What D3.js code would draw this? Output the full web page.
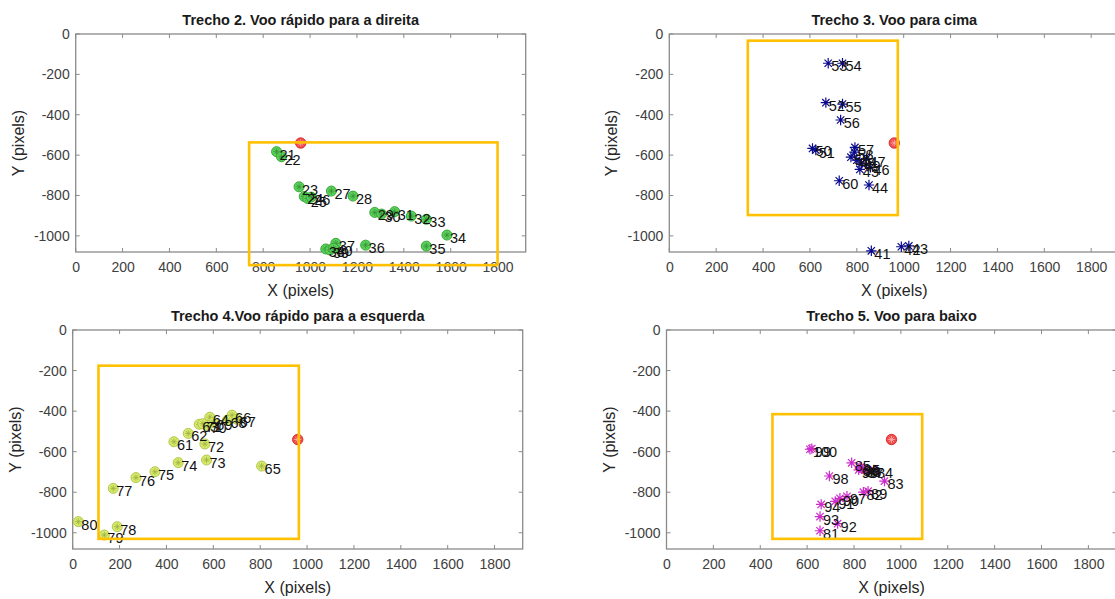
<!DOCTYPE html>
<html><head><meta charset="utf-8">
<script src="https://cdn.jsdelivr.net/npm/d3@7"></script>
<style>body{margin:0;background:#fff;} svg{display:block;}</style>
</head><body>
<script>
// ---------- data ----------
const xTicks = [0,200,400,600,800,1000,1200,1400,1600,1800];
const yTicks = [0,-200,-400,-600,-800,-1000];
const xDomain = [0,1920];
const yDomain = [-1080,0];
const titles = ["Trecho 2. Voo rápido para a direita","Trecho 3. Voo para cima","Trecho 4.Voo rápido para a esquerda","Trecho 5. Voo para baixo"];
const xLabel = "X (pixels)";
const yLabel = "Y (pixels)";
const targetX = 960, targetY = -540;

const ids2 = [21,22,23,24,25,26,27,28,29,30,31,32,33,34,35,36,37,38,39,40];
const x2 = [857,878,953,975,990,1005,1091,1183,1276,1305,1361,1432,1496,1584,1496,1237,1110,1067,1085,1100];
const y2 = [-583,-608,-757,-805,-815,-808,-778,-803,-884,-892,-880,-902,-918,-996,-1051,-1046,-1037,-1065,-1070,-1062];

const ids3 = [41,42,43,44,45,46,47,48,49,50,51,52,53,54,55,56,57,58,59,60];
const x3 = [862,990,1022,852,813,858,841,800,820,611,625,668,678,739,739,731,792,790,775,725];
const y3 = [-1074,-1054,-1050,-748,-671,-661,-618,-625,-640,-567,-575,-340,-145,-145,-347,-426,-562,-585,-610,-727];

const ids4 = [61,62,63,64,65,66,67,68,69,70,71,72,73,74,75,76,77,78,79,80];
const x4 = [432,493,540,585,806,680,700,660,600,575,555,564,571,450,351,270,173,190,135,24];
const y4 = [-551,-510,-465,-430,-671,-420,-440,-445,-455,-470,-462,-562,-641,-654,-699,-728,-781,-970,-1011,-945];

const ids5 = [81,82,83,84,85,86,87,88,89,90,91,92,93,94,95,96,97,98,99,100];
const x5 = [655,840,930,885,790,825,845,835,860,740,720,730,655,660,830,820,770,695,620,612];
const y5 = [-990,-800,-745,-690,-655,-680,-690,-685,-795,-830,-845,-955,-920,-860,-675,-690,-820,-720,-585,-588];

// highlight rectangles [x0, x1, y0, y1] in data units
const rect2 = [740,1800,-1145,-537];
const rect3 = [335,975,-897,-33];
const rect4 = [110,965,-1030,-176];
const rect5 = [452,1091,-1030,-415];

// ---------- layout ----------
const W = 1115, H = 599;
const svg = d3.select("body").append("svg").attr("width",W).attr("height",H)
  .style("font-family","'Liberation Sans', Arial, Helvetica, sans-serif");
svg.append("rect").attr("width",W).attr("height",H).attr("fill","#fff");

const panels = [
  {left:75.7, top:34, w:450, h:218, ids:ids2, xs:x2, ys:y2, rect:rect2, kind:"circle", fill:"#5cd25c", stroke:"#37a837", star:"#2a7d2a"},
  {left:669.3, top:34, w:450, h:218, ids:ids3, xs:x3, ys:y3, rect:rect3, kind:"star", stroke:"#0a0a8c"},
  {left:72.7, top:330, w:450, h:219, ids:ids4, xs:x4, ys:y4, rect:rect4, kind:"circle", fill:"#d8ec6e", stroke:"#b3c64a", star:"#8c9c35"},
  {left:666.5, top:330, w:450, h:219, ids:ids5, xs:x5, ys:y5, rect:rect5, kind:"star", stroke:"#cc2ccc"}
];

function starPath(r){
  const d = r*0.7071;
  return `M${-r},0L${r},0M0,${-r}L0,${r}M${-d},${-d}L${d},${d}M${-d},${d}L${d},${-d}`;
}

const axisColor = "#8a8a8a", tickText = "#404040";

panels.forEach((p,i)=>{
  const g = svg.append("g").attr("transform",`translate(${p.left},${p.top})`);
  const x = d3.scaleLinear().domain(xDomain).range([0,p.w]);
  const y = d3.scaleLinear().domain(yDomain).range([p.h,0]);

  const tl = 4;
  const gx = g.append("g").attr("transform",`translate(0,${p.h})`)
    .call(d3.axisBottom(x).tickValues(xTicks).tickSize(0).tickPadding(10).tickFormat(d3.format("d")));
  const gy = g.append("g")
    .call(d3.axisLeft(y).tickValues(yTicks).tickSize(0).tickPadding(6).tickFormat(d=>String(d)));
  [gx,gy].forEach(a=>{
    a.select(".domain").remove();
    a.selectAll("text").attr("fill",tickText).style("font-size","14px");
  });
  g.append("rect").attr("width",p.w).attr("height",p.h).attr("fill","none")
    .attr("stroke",axisColor).attr("stroke-width",1.3);
  xTicks.forEach(t=>{
    g.append("line").attr("x1",x(t)).attr("x2",x(t)).attr("y1",p.h).attr("y2",p.h-tl).attr("stroke",axisColor);
    g.append("line").attr("x1",x(t)).attr("x2",x(t)).attr("y1",0).attr("y2",tl).attr("stroke",axisColor);
  });
  yTicks.forEach(t=>{
    g.append("line").attr("x1",0).attr("x2",tl).attr("y1",y(t)).attr("y2",y(t)).attr("stroke",axisColor);
    g.append("line").attr("x1",p.w).attr("x2",p.w-tl).attr("y1",y(t)).attr("y2",y(t)).attr("stroke",axisColor);
  });

  g.append("text").attr("x",p.w/2).attr("y",-9).attr("text-anchor","middle")
    .style("font-size","14.5px").style("font-weight","bold").attr("fill","#1a1a1a").text(titles[i]);
  g.append("text").attr("x",p.w/2).attr("y",p.h+44).attr("text-anchor","middle")
    .style("font-size","16px").attr("fill","#262626").text(xLabel);
  g.append("text").attr("transform",`translate(${-52},${p.h/2}) rotate(-90)`).attr("text-anchor","middle")
    .style("font-size","16px").attr("fill","#262626").text(yLabel);

  const tg = g.append("g").attr("transform",`translate(${x(targetX)},${y(targetY)})`);
  tg.append("circle").attr("r",5.2).attr("fill","#ee4b4b").attr("stroke","#e03030");
  tg.append("path").attr("d",starPath(3.6)).attr("stroke","#ffb0b0").attr("stroke-width",0.8);

  const pts = p.ids.map((id,k)=>({id, x:p.xs[k], y:p.ys[k]}));
  const m = g.append("g").selectAll("g").data(pts).join("g")
    .attr("transform",d=>`translate(${x(d.x)},${y(d.y)})`);
  if(p.kind==="circle"){
    m.append("circle").attr("r",5).attr("fill",p.fill).attr("stroke",p.stroke).attr("stroke-width",1);
    m.append("path").attr("d",starPath(3.4)).attr("stroke",p.star).attr("stroke-width",0.7).attr("opacity",0.8);
  } else {
    m.append("path").attr("d",starPath(5.2)).attr("stroke",p.stroke).attr("stroke-width",1.2).attr("fill","none");
  }
  g.append("g").selectAll("text").data(pts).join("text")
    .attr("x",d=>x(d.x)+3).attr("y",d=>y(d.y)+8)
    .style("font-size","14.5px").attr("fill","#111").text(d=>d.id);

  const r = p.rect;
  g.append("rect").attr("x",x(r[0])).attr("y",y(r[3]))
    .attr("width",x(r[1])-x(r[0])).attr("height",y(r[2])-y(r[3]))
    .attr("fill","none").attr("stroke","#ffc000").attr("stroke-width",2.6);
});
</script>
</body></html>
